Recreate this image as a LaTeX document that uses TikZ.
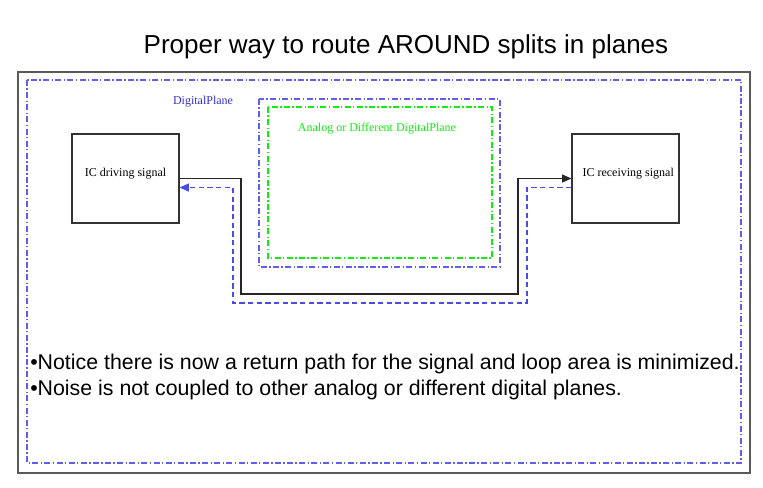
\documentclass[tikz,border=0pt]{standalone}
\usepackage{fontspec}
\setmainfont{Liberation Serif}
\setsansfont{Liberation Sans}
\usetikzlibrary{arrows.meta}
\definecolor{planeblue}{RGB}{95,95,235}
\definecolor{retblue}{RGB}{75,75,230}
\definecolor{labelblue}{RGB}{50,50,205}
\definecolor{planegreen}{RGB}{20,235,20}
\definecolor{framegray}{RGB}{90,90,90}

\begin{document}
\begin{tikzpicture}[x=0.75pt,y=-0.75pt,
  planeline/.style={line width=0.8pt,dash pattern=on 4.5pt off 1.8pt on 1pt off 1.8pt},
  icbox/.style={draw=black!80,line width=0.8pt,minimum width=80.25pt,minimum height=66.75pt,inner sep=0pt},
  ictext/.style={font=\fontsize{9}{11}\selectfont,inner sep=0pt},
  sigline/.style={draw=black!85,line width=0.8pt,-{Triangle[length=7pt,width=6pt]}},
  retline/.style={color=retblue,line width=0.9pt,dash pattern=on 4pt off 2.5pt,-{Triangle[length=7pt,width=6pt]}},
  bullettext/.style={font=\sffamily\fontsize{16}{19}\selectfont,anchor=west,inner sep=0pt}]
\useasboundingbox (0,0) rectangle (763,487);
\fill[white] (0,0) rectangle (763,487);

% title
\node[font=\sffamily\fontsize{19.5}{23}\selectfont] (title) at (406,47) {Proper way to route AROUND splits in planes};

% planes
\draw[framegray,line width=1.1pt] (18,72) rectangle (750,473);
\draw[planeline,color=planeblue] (27,80) rectangle (741,463);
\node[ictext,text=labelblue] (digital) at (203,102) {DigitalPlane};
\draw[planeline,color=planeblue] (259,99) rectangle (500,267);
\draw[planeline,color=planegreen] (268,107) rectangle (492,258);
\node[ictext,text=planegreen] (analog) at (377,129) {Analog or Different DigitalPlane};

% the two ICs
\node[icbox] (drv) at (125.5,178.5) {};
\node[ictext] (drvtxt) at ([yshift=3.75pt]drv.center) {IC driving signal};
\node[icbox] (rcv) at (625.5,178.5) {};
\node[ictext] (rcvtxt) at ([xshift=2pt,yshift=3.75pt]rcv.center) {IC receiving signal};

% signal and its return path
\draw[sigline] (drv.east) -| (241,294) -| (518,178.5) -- (rcv.west);
\draw[retline] ([yshift=-7pt]rcv.west) -| (527,303) -| (233,187.5) -- ([yshift=-6.75pt]drv.east);

% notes
\node[bullettext] (note1) at (30,364) {•Notice there is now a return path for the signal and loop area is minimized.};
\node[bullettext] (note2) at (30,390) {•Noise is not coupled to other analog or different digital planes.};
\end{tikzpicture}
\end{document}
